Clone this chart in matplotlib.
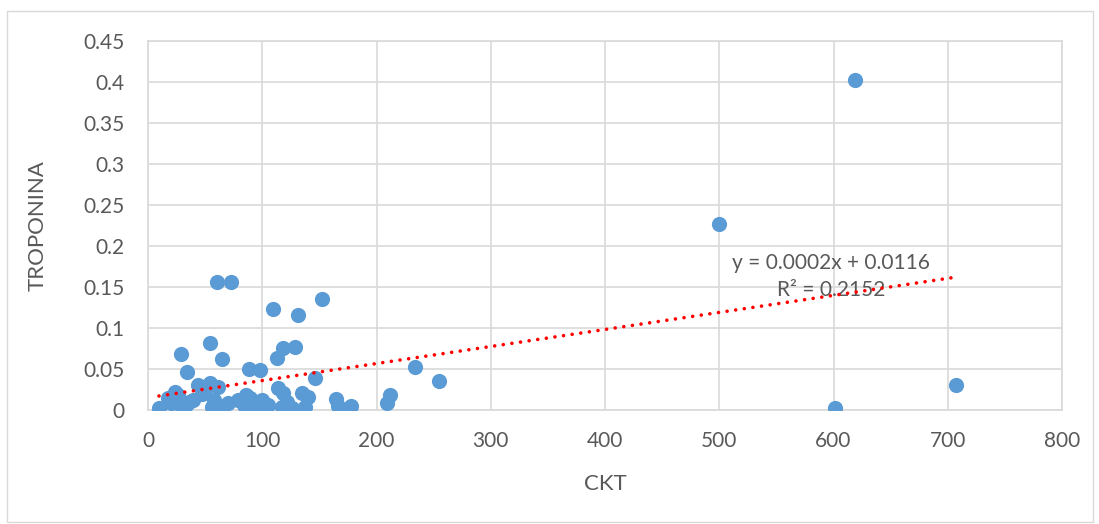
import numpy as np
import matplotlib.pyplot as plt
import matplotlib.ticker as mticker
from matplotlib.patches import Rectangle

# CKT vs troponina readings
ckt = [9.6, 17.5, 20, 23.6, 26, 29.7, 29, 33, 34, 36, 39.4, 43.7, 47, 50, 54.2,
       54, 56, 58, 60, 61.2, 65, 65.6, 70, 73, 78.7, 84, 86, 88, 89.2, 91, 95, 98,
       99.7, 99.7, 105, 109, 113, 113.7, 117.2, 118, 118, 121.6, 126, 129, 131,
       134.7, 137.4, 140, 146, 152, 164.5, 166, 177.6, 209, 211.7, 234, 255, 500,
       601, 619, 707]
troponina = [0.0024, 0.0146, 0.008, 0.022, 0.018, 0.0024, 0.068, 0.006, 0.046, 0.010,
             0.012, 0.030, 0.020, 0.024, 0.033, 0.082, 0.004, 0.012, 0.156, 0.028,
             0.062, 0.004, 0.008, 0.156, 0.012, 0.006, 0.018, 0.050, 0.0146, 0.004,
             0.008, 0.049, 0.012, 0.004, 0.006, 0.123, 0.064, 0.027, 0.004, 0.021,
             0.076, 0.010, 0.0024, 0.077, 0.116, 0.021, 0.004, 0.016, 0.039, 0.135,
             0.0134, 0.005, 0.005, 0.0085, 0.018, 0.052, 0.035, 0.227, 0.003, 0.403,
             0.030]

x_ticks = [0, 100, 200, 300, 400, 500, 600, 700, 800]
y_ticks = [0, 0.05, 0.1, 0.15, 0.2, 0.25, 0.3, 0.35, 0.4, 0.45]

equation_text = "y = 0.0002x + 0.0116"
r2_text = "R² = 0.2152"

plt.rcParams["font.family"] = ["Lato", "DejaVu Sans"]
text_color = "#595959"
grid_color = "#D9D9D9"

fig = plt.figure(figsize=(10.99, 5.24), dpi=100)
fig.patches.append(Rectangle((7 / 1099, 2 / 524), 1086 / 1099, 511 / 524,
                             transform=fig.transFigure, fill=False,
                             edgecolor=grid_color, linewidth=1.0))
ax = fig.add_axes([148 / 1099, 1 - 410 / 524, 914 / 1099, 369 / 524])

ax.scatter(ckt, troponina, s=120, color="#5B9BD5", zorder=3, linewidths=0)

# linear trend over the data range
slope, intercept = np.polyfit(ckt, troponina, 1)
xs = np.array([min(ckt), max(ckt)])
ax.plot(xs, slope * xs + intercept, color="#FF0000", linewidth=2.6,
        linestyle=(0, (0.01, 2.4)), dash_capstyle="round", zorder=4)

ax.text(598, 0.1795, equation_text, ha="center", va="center",
        fontsize=15, color=text_color, zorder=5)
ax.text(598, 0.1465, r2_text, ha="center", va="center",
        fontsize=15, color=text_color, zorder=2)

ax.set_xlim(0, 800)
ax.set_ylim(0, 0.45)
ax.set_xticks(x_ticks)
ax.set_yticks(y_ticks)
ax.yaxis.set_major_formatter(mticker.FuncFormatter(lambda v, p: f"{v:g}"))
ax.grid(True, color=grid_color, linewidth=1.2, zorder=0)
ax.set_axisbelow(True)
for sp in ax.spines.values():
    sp.set_color(grid_color)
    sp.set_linewidth(1.2)
ax.tick_params(length=0, labelsize=15, labelcolor=text_color)
ax.tick_params(axis="y", pad=17)
ax.tick_params(axis="x", pad=15)

ax.set_xlabel("CKT", fontsize=16, color=text_color)
ax.set_ylabel("TROPONINA", fontsize=16, color=text_color)
ax.yaxis.set_label_coords(-0.110, 0.5)
ax.xaxis.set_label_coords(0.5, -0.173)

fig.savefig("out.png", dpi=100)
plt.close(fig)
